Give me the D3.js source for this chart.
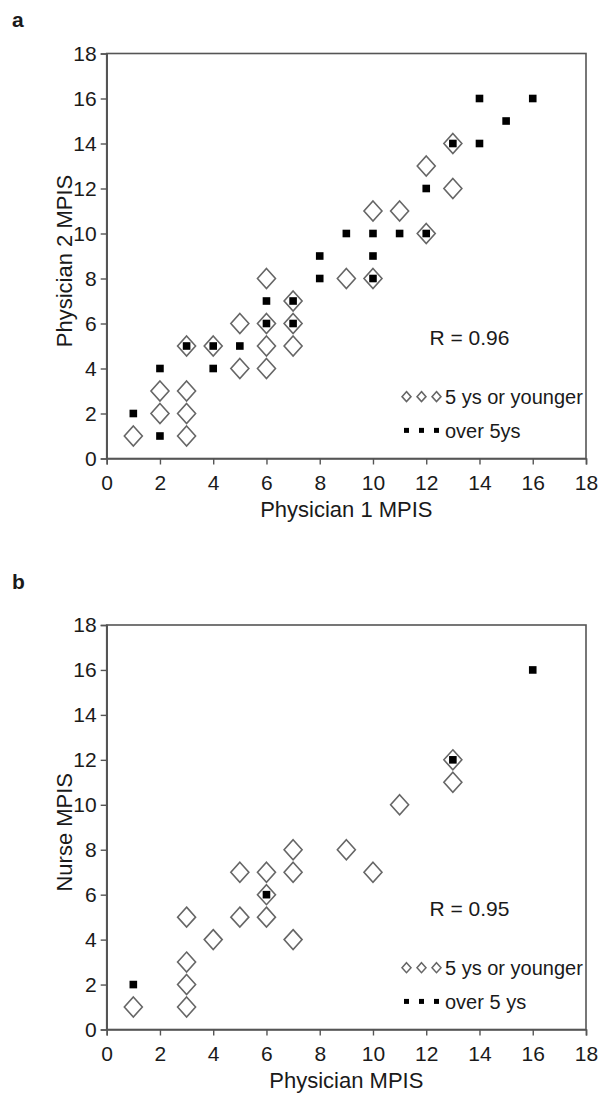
<!DOCTYPE html>
<html><head><meta charset="utf-8">
<script src="https://cdn.jsdelivr.net/npm/d3@7"></script>
<style>
html,body{margin:0;padding:0;background:#fff;}
text{font-family:"Liberation Sans",Arial,sans-serif;fill:#1a1a1a;}
</style></head>
<body>
<script>
// ---- data ----
const ticks = [0,2,4,6,8,10,12,14,16,18];
const aYoungX = [1,2,2,3,3,3,3,4,5,5,6,6,6,6,7,7,7,9,10,10,11,12,12,13,13];
const aYoungY = [1,2,3,1,2,3,5,5,4,6,4,5,6,8,5,6,7,8,8,11,11,10,13,12,14];
const aOldX = [1,2,2,3,4,4,5,6,6,7,7,8,8,9,10,10,10,11,12,12,13,14,14,15,16];
const aOldY = [2,1,4,5,4,5,5,6,7,6,7,8,9,10,8,9,10,10,10,12,14,14,16,15,16];
const bYoungX = [1,3,3,3,3,4,5,5,6,6,6,7,7,7,9,10,11,13,13];
const bYoungY = [1,1,2,3,5,4,5,7,5,6,7,4,7,8,8,7,10,11,12];
const bOldX = [1,6,13,16];
const bOldY = [2,6,12,16];
const panelLetters = ["a","b"];
const xTitles = ["Physician 1 MPIS","Physician MPIS"];
const yTitles = ["Physician 2 MPIS","Nurse MPIS"];
const rTexts = ["R = 0.96","R = 0.95"];
const legendYoung = "5 ys or younger";
const legendOld = ["over 5ys","over 5 ys"];

const W = 601, H = 1093;
const svg = d3.select("body").append("svg").attr("width",W).attr("height",H);

const panels = [
  {top:53.5, bottom:458.5, letterY:26.5,
   young:aYoungX.map((x,i)=>[x,aYoungY[i]]), old:aOldX.map((x,i)=>[x,aOldY[i]])},
  {top:625, bottom:1029.5, letterY:589,
   young:bYoungX.map((x,i)=>[x,bYoungY[i]]), old:bOldX.map((x,i)=>[x,bOldY[i]])}
];
const left = 106.7, right = 586;
const axisCol = "#555";
const diamond = (cx,cy,hw,hh)=>`M${cx},${cy-hh}L${cx+hw},${cy}L${cx},${cy+hh}L${cx-hw},${cy}Z`;

panels.forEach((p,pi)=>{
  const x = d3.scaleLinear().domain([0,18]).range([left,right]);
  const y = d3.scaleLinear().domain([0,18]).range([p.bottom,p.top]);
  const g = svg.append("g");

  g.append("text").attr("x",12).attr("y",p.letterY).attr("font-size",21).attr("font-weight","bold").text(panelLetters[pi]);

  // frame
  g.append("rect").attr("x",left).attr("y",p.top).attr("width",right-left).attr("height",p.bottom-p.top)
    .attr("fill","none").attr("stroke",axisCol).attr("stroke-width",1.6);

  const xa = g.append("g").attr("transform",`translate(0,${p.bottom})`)
    .call(d3.axisBottom(x).tickValues(ticks).tickSize(6).tickPadding(11).tickFormat(d3.format("d")));
  const ya = g.append("g").attr("transform",`translate(${left},0)`)
    .call(d3.axisLeft(y).tickValues(ticks).tickSize(6).tickPadding(4).tickFormat(d3.format("d")));
  [xa,ya].forEach(a=>{
    a.attr("font-size",21).attr("font-family","Liberation Sans, Arial, sans-serif");
    a.select(".domain").attr("stroke",axisCol).attr("stroke-width",1.6);
    a.selectAll(".tick line").attr("stroke",axisCol).attr("stroke-width",1.4);
    a.selectAll(".tick text").style("font-size","21px").attr("fill","#1a1a1a");
  });

  g.append("text").attr("x",(left+right)/2).attr("y",p.bottom+58.5).attr("text-anchor","middle")
    .attr("font-size",22).text(xTitles[pi]);
  g.append("text").attr("transform",`translate(72,${(p.top+p.bottom)/2+5}) rotate(-90)`).attr("text-anchor","middle")
    .attr("font-size",22).text(yTitles[pi]);

  // markers
  g.append("g").selectAll("path").data(p.young).join("path")
    .attr("d",d=>diamond(x(d[0]),y(d[1]),9,10))
    .attr("fill","#fff").attr("stroke","#666").attr("stroke-width",1.6);
  g.append("g").selectAll("rect").data(p.old).join("rect")
    .attr("x",d=>x(d[0])-3.8).attr("y",d=>y(d[1])-3.8).attr("width",7.6).attr("height",7.6).attr("fill","#000");

  // R text
  g.append("text").attr("x",429.5).attr("y",y(5.05)).attr("font-size",21).text(rTexts[pi]);

  // legend
  const ly1 = y(2.75), ly2 = y(1.25);
  [406.5,421.5,436.5].forEach(cx=>{
    g.append("path").attr("d",diamond(cx,ly1,4.5,5)).attr("fill","#fff").attr("stroke","#666").attr("stroke-width",1.5);
    g.append("rect").attr("x",cx-2.5).attr("y",ly2-2.5).attr("width",5).attr("height",5).attr("fill","#000");
  });
  g.append("text").attr("x",445).attr("y",ly1+7.5).attr("font-size",20).text(legendYoung);
  g.append("text").attr("x",445).attr("y",ly2+7.5).attr("font-size",20).text(legendOld[pi]);
});
</script>
</body></html>
